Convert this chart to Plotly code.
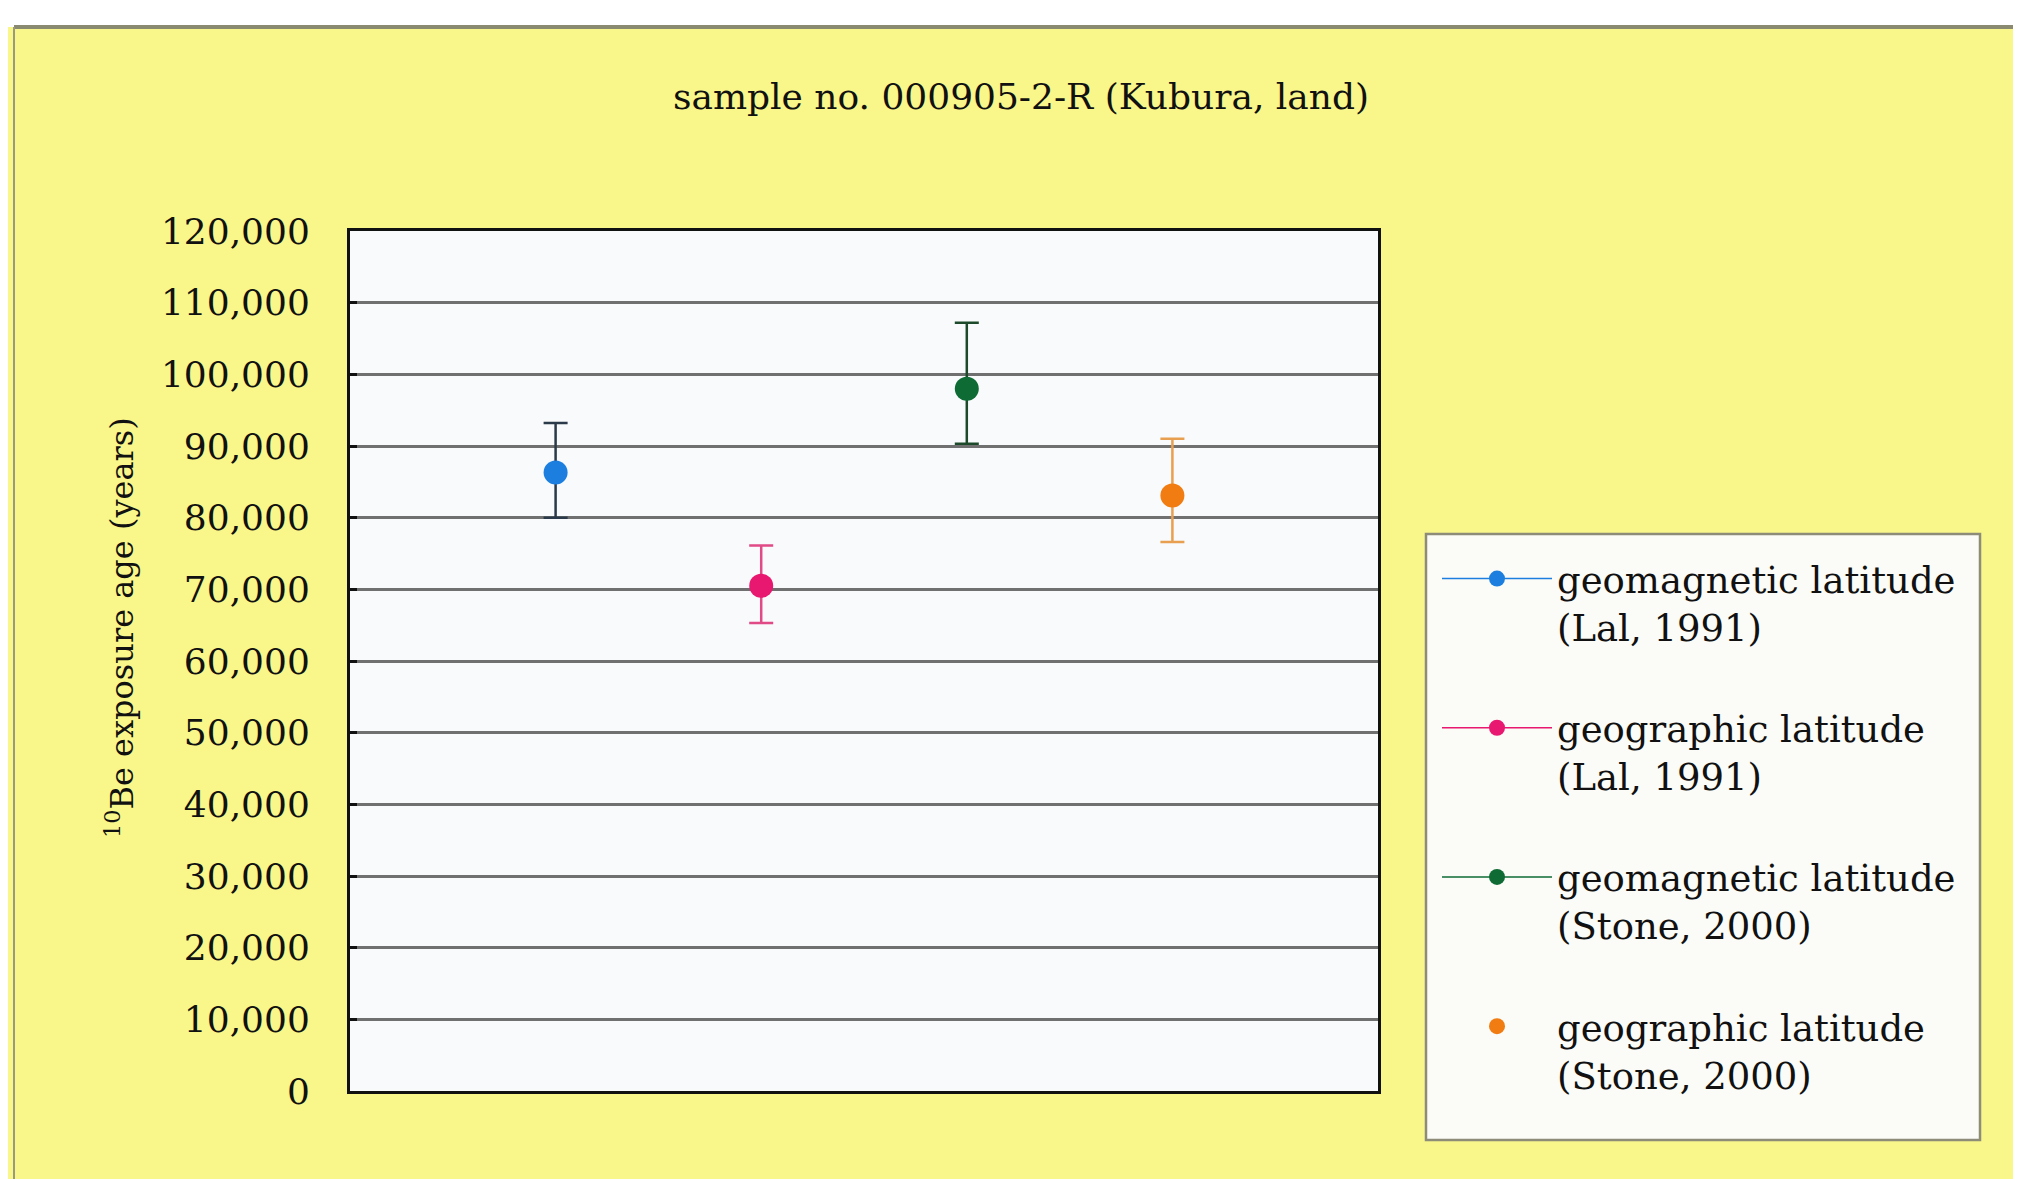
import plotly.graph_objects as go

# ---- data ----
names = [
    "geomagnetic latitude<br>(Lal, 1991)",
    "geographic latitude<br>(Lal, 1991)",
    "geomagnetic latitude<br>(Stone, 2000)",
    "geographic latitude<br>(Stone, 2000)",
]
x_pos = [1, 2, 3, 4]
ages = [86300, 70500, 98000, 83100]
err_plus = [6900, 5600, 9200, 7900]
err_minus = [6300, 5200, 7700, 6500]
colors = ["#1c7fe0", "#e8176f", "#0e6b34", "#f07c12"]
err_colors = ["#2b3a4a", "#e04a86", "#1d4a2a", "#e8a050"]
modes = ["lines+markers", "lines+markers", "lines+markers", "markers"]
y_ticks = list(range(0, 120001, 10000))

W, H = 2021, 1179
L, R, T, B = 342, 1370, 223, 1083
FONT = "DejaVu Serif"

def px(xp):
    return (xp - L) / (R - L)

def py(yp):
    return (B - yp) / (B - T)

fig = go.Figure()
for i in range(4):
    fig.add_trace(go.Scatter(
        x=[x_pos[i]], y=[ages[i]],
        mode=modes[i],
        name=names[i],
        legendgroup=f"g{i}",
        marker=dict(size=24, color=colors[i]),
        line=dict(color=colors[i], width=1.5),
        error_y=dict(type="data", array=[err_plus[i]], arrayminus=[err_minus[i]],
                     color=err_colors[i], thickness=2.5, width=12),
    ))

fig.update_layout(
    width=W, height=H,
    margin=dict(l=L, r=W - R, t=T, b=H - B),
    paper_bgcolor="#f9f68a",
    plot_bgcolor="#f9fafb",
    font=dict(family=FONT, color="#111111"),
    title=dict(text="sample no. 000905-2-R (Kubura, land)",
               x=1013 / W, xanchor="center", xref="container",
               y=1 - 88 / H, yanchor="middle", yref="container",
               font=dict(size=36, family=FONT, color="#111111")),
    xaxis=dict(range=[0, 5], showticklabels=False, showgrid=False, zeroline=False,
               showline=True, linecolor="#111111", linewidth=3, mirror=True, ticks=""),
    yaxis=dict(range=[0, 120000], tickvals=y_ticks, tickformat=",",
               showgrid=True, gridcolor="#707070", gridwidth=2.5, zeroline=False,
               showline=True, linecolor="#111111", linewidth=3, mirror=True,
               ticks="inside", ticklen=7, tickwidth=3, tickcolor="#111111",
               tickfont=dict(size=36, family=FONT, color="#111111"),
               ticklabelstandoff=30),
    annotations=[dict(text="<sup>10</sup>Be exposure age (years)",
                      xref="paper", yref="paper", x=px(112), y=py(620),
                      xanchor="center", yanchor="middle", textangle=-90,
                      showarrow=False,
                      font=dict(size=32, family=FONT, color="#111111"))],
    showlegend=True,
    legend=dict(x=px(1416), y=py(540), xanchor="left", yanchor="top",
                bgcolor="rgba(0,0,0,0)", borderwidth=0,
                font=dict(size=37, family=FONT, color="#111111"),
                tracegroupgap=50, itemwidth=110, indentation=13,
                traceorder="grouped", valign="top"),
    shapes=[
        dict(type="rect", xref="paper", yref="paper", x0=px(1418), x1=px(1972),
             y0=py(1132), y1=py(526), fillcolor="#fbfbf7",
             line=dict(color="#8c8c78", width=2.5), layer="below"),
        dict(type="rect", xref="paper", yref="paper", x0=px(-50), x1=px(W + 50),
             y0=py(-50), y1=py(19), fillcolor="#ffffff", line=dict(width=0), layer="above"),
        dict(type="line", xref="paper", yref="paper", x0=px(6), x1=px(2015),
             y0=py(19), y1=py(19), line=dict(color="#8a8a70", width=4), layer="above"),
        dict(type="line", xref="paper", yref="paper", x0=px(6), x1=px(6),
             y0=py(19), y1=py(1200), line=dict(color="#9a9a80", width=2), layer="above"),
        dict(type="line", xref="paper", yref="paper", x0=px(2015), x1=px(2015),
             y0=py(19), y1=py(1200), line=dict(color="#9a9a80", width=2), layer="above"),
    ],
)

fig.write_html("out.html")
